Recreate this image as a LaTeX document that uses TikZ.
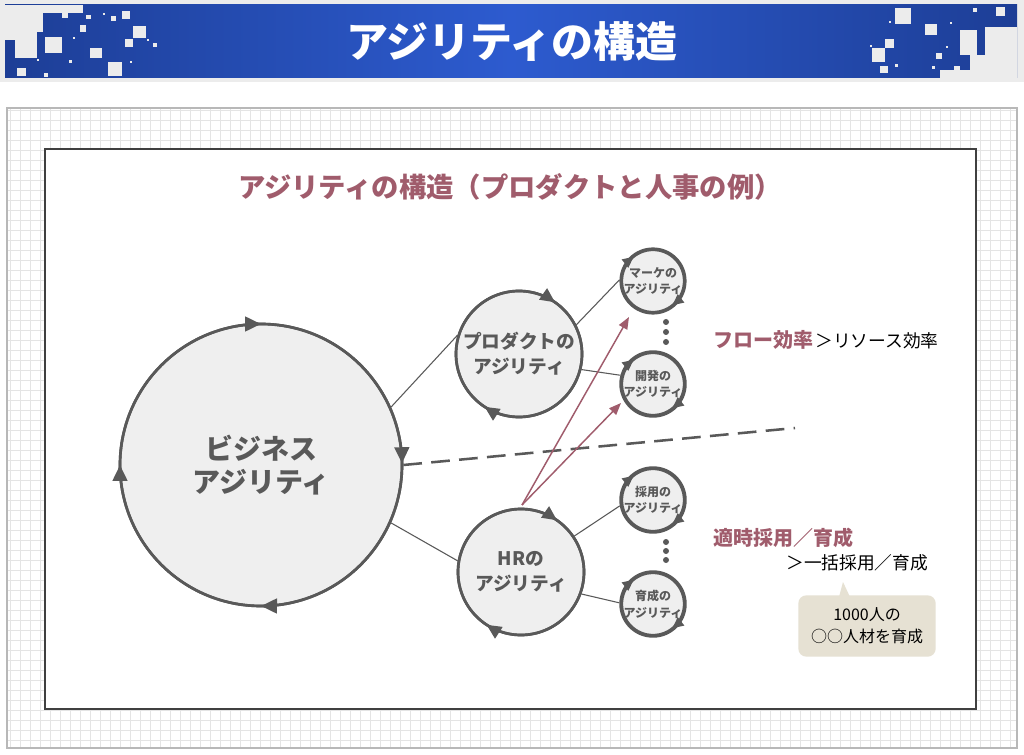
\documentclass[tikz,border=0pt]{standalone}
\usepackage{fontspec}
\setmainfont{Noto Sans CJK JP}
\usetikzlibrary{arrows.meta,decorations.markings,positioning}

\definecolor{ringc}{HTML}{595959}
\definecolor{ringfill}{HTML}{EFEFEF}
\definecolor{mauve}{HTML}{A05C6C}
\definecolor{bandedge}{HTML}{1D3E96}
\definecolor{bandmid}{HTML}{2D5BCF}
\definecolor{patc}{HTML}{ECECEC}
\definecolor{gridc}{HTML}{E4E4E4}
\definecolor{panelc}{HTML}{B8B8B8}
\definecolor{memoc}{HTML}{E6E1D3}

\begin{document}
\begin{tikzpicture}[x=0.75pt, y=-0.75pt,
    ring/.style={circle, draw=ringc, fill=ringfill, line width=2pt, inner sep=0pt, align=center, text=ringc},
    bigring/.style={ring, minimum size=211.5pt, font=\bfseries\fontsize{21}{25}\selectfont},
    midring/.style={ring, minimum size=94.5pt, font=\bfseries\fontsize{14}{19}\selectfont},
    smallring/.style={ring, line width=1.7pt, minimum size=46.5pt, font=\bfseries\fontsize{9}{12.5}\selectfont},
    bigturn/.style={draw=ringc, line width=2pt, postaction={decorate}, decoration={markings,
        mark=at position 0.25 with {\arrow{Triangle[length=12pt,width=11pt]}},
        mark=at position 0.5 with {\arrow{Triangle[length=12pt,width=11pt]}},
        mark=at position 0.75 with {\arrow{Triangle[length=12pt,width=11pt]}},
        mark=at position 0.998 with {\arrow{Triangle[length=12pt,width=11pt]}}}},
    midturn/.style={draw=ringc, line width=2pt, postaction={decorate}, decoration={markings,
        mark=at position 0.342 with {\arrow{Triangle[length=11pt,width=10pt]}},
        mark=at position 0.847 with {\arrow{Triangle[length=11pt,width=10pt]}}}},
    smallturn/.style={draw=ringc, line width=1.7pt, postaction={decorate}, decoration={markings,
        mark=at position 0.144 with {\arrow{Triangle[length=8.5pt,width=7.5pt]}},
        mark=at position 0.644 with {\arrow{Triangle[length=8.5pt,width=7.5pt]}}}},
    link/.style={draw=ringc, line width=0.8pt},
    push/.style={draw=mauve, line width=1.1pt, -{Triangle[length=9pt,width=7pt]}},
    cut/.style={draw=ringc, line width=1.9pt, dash pattern=on 14pt off 7pt},
    key/.style={anchor=base west, inner sep=0pt, text=mauve, font=\bfseries\fontsize{15}{18}\selectfont},
    rest/.style={anchor=base west, inner sep=0pt, font=\fontsize{13.3}{16}\selectfont},
    memo/.style={rectangle, rounded corners=6pt, fill=memoc, minimum width=103pt, minimum height=46pt, align=center, font=\fontsize{12}{16.5}\selectfont},
]
    \useasboundingbox (0,0) rectangle (1024,755);
    \fill[white] (0,0) rectangle (1024,755);

    % header band
    \fill[patc] (0,0) rectangle (1024,82);
    \shade[left color=bandedge, right color=bandedge, middle color=bandmid] (5,5) rectangle (1017,78);
    \foreach \x/\y/\w/\h in {5/5/78/8, 5/13/38/19, 5/32/32/8, 15/40/22/18, 45/37/17/16, 62/13/6/5,
        86/15/5/4, 103/13/2/2, 111/16/5/5, 122/11/8/8, 80/25/6/7, 133/26/13/12, 125/39/8/8, 73/37/2/2,
        147/39/2/2, 153/43/4/4, 90/48/12/10, 37/59/2/2, 69/60/3/3, 108/62/14/14, 130/61/2/2, 17/68/9/8, 44/73/4/4,
        985/27/32/51, 960/30/17/25, 970/55/15/23, 940/70/30/8, 954/66/6/4,
        895/8/16/16, 996/7/9/9, 973/8/4/4, 925/24/12/11, 889/21/2/2, 950/22/2/2, 885/39/9/9, 872/48/13/14,
        936/53/6/6, 895/64/3/3, 880/66/8/7, 932/66/3/3, 870/45/2/2, 946/46/2/2}
        \fill[patc] (\x,\y) rectangle ++(\w,\h);
    \node[font=\bfseries\fontsize{31.5}{36}\selectfont, text=white] (head) at (512,42) {アジリティの構造};

    % grid panel and white sheet
    \draw[gridc, line width=0.5pt, step=7.5pt] (7,108) grid (1017,748);
    \draw[panelc, line width=1.2pt] (7,108) rectangle (1017,748);
    \draw[fill=white, draw=black!75, line width=0.9pt] (45,149) rectangle (976,709);
    \node[font=\bfseries\fontsize{20.5}{24}\selectfont, text=mauve] (sub) at (510,187) {アジリティの構造（プロダクトと人事の例）};

    % circles
    \node[bigring] (biz) at (261,465) {ビジネス\\アジリティ};
    \node[midring] (prod) at (519,354) {プロダクトの\\アジリティ};
    \node[midring] (hr) at (521,572) {HRの\\アジリティ};
    \node[smallring] (mkt) at (653,281) {マーケの\\アジリティ};
    \node[smallring] (dev) at (653,384) {開発の\\アジリティ};
    \node[smallring] (hire) at (653,500) {採用の\\アジリティ};
    \node[smallring] (grow) at (653,604) {育成の\\アジリティ};
    \draw[bigturn] (biz.center) circle[radius=141];
    \draw[midturn] (prod.center) circle[radius=63];
    \draw[midturn] (hr.center) circle[radius=63];
    \foreach \n in {mkt,dev,hire,grow}
        \draw[smallturn] (\n.center) circle[radius=31];
    \foreach \y in {322,332,342,542,551,560}
        \fill[ringc] (666,\y) circle[radius=3];

    % links
    \draw[link] (biz.24) -- (prod.163);
    \draw[link] (biz.-24) -- (hr.170);
    \draw[link] (prod.27) -- (mkt.178);
    \draw[link] (prod.-14) -- (dev.165);
    \draw[link] (hr.34) -- (hire.190);
    \draw[link] (hr.-20) -- (grow.178);

    % divider and arrows
    \coordinate (cutend) at (795,428);
    \draw[cut] (biz.east) -- (cutend);
    \coordinate (hrtop) at (522,505);
    \coordinate (mktin) at (629,317);
    \coordinate (devin) at (621,403);
    \draw[push] (hrtop) -- (mktin);
    \draw[push] (hrtop) -- (devin);

    % notes on the right
    \node[key] (flow) at (713,348) {フロー効率};
    \node[rest] (res) at (815,348) {＞リソース効率};
    \node[key] (timely) at (713,545) {適時採用／育成};
    \node[rest] (bulk) at (786,569) {＞一括採用／育成};
    \node[memo] (memo) at (867,626) {1000人の\\○○人材を育成};
    \fill[memoc] (839,597) -- (843,582) -- (850,597) -- cycle;
\end{tikzpicture}
\end{document}
